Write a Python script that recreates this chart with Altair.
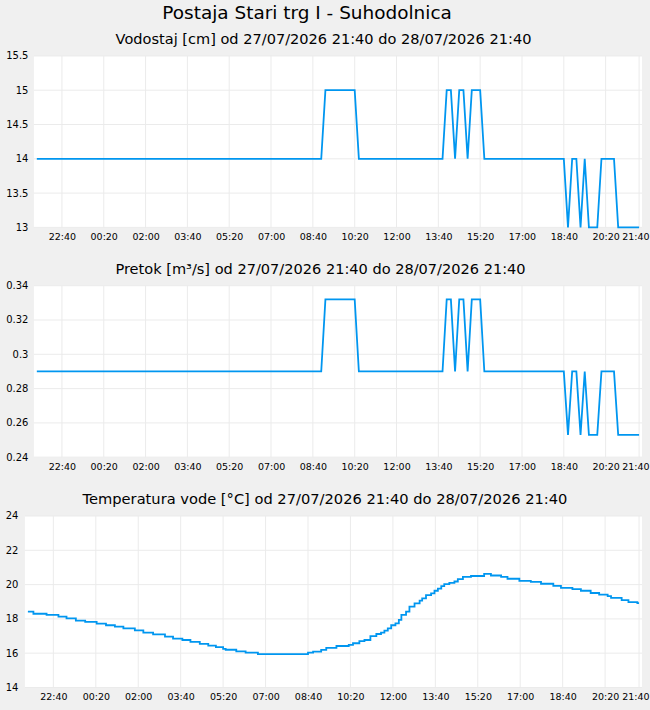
import altair as alt
import pandas as pd

# minutes after 27/07/2026 21:40
tick_minutes = [60, 160, 260, 360, 460, 560, 660, 760, 860, 960, 1060, 1160, 1260, 1360, 1440]
tick_labels = ["22:40", "00:20", "02:00", "03:40", "05:20", "07:00", "08:40", "10:20",
               "12:00", "13:40", "15:20", "17:00", "18:40", "20:20", "21:40"]

# Vodostaj [cm]
level_min = [0, 680, 690, 760, 770, 970, 980, 990, 1000, 1010, 1020, 1030, 1040, 1060, 1070,
             1260, 1270, 1280, 1290, 1300, 1310, 1320, 1340, 1350, 1380, 1390, 1440]
level_cm = [14, 14, 15, 15, 14, 14, 15, 15, 14, 15, 15, 14, 15, 15, 14,
            14, 13, 14, 14, 13, 14, 13, 13, 14, 14, 13, 13]

# Pretok [m3/s]
flow_min = [0, 680, 690, 760, 770, 970, 980, 990, 1000, 1010, 1020, 1030, 1040, 1060, 1070,
            1260, 1270, 1280, 1290, 1300, 1310, 1320, 1340, 1350, 1380, 1390, 1440]
flow_m3s = [0.290, 0.290, 0.332, 0.332, 0.290, 0.290, 0.332, 0.332, 0.290, 0.332, 0.332, 0.290,
            0.332, 0.332, 0.290, 0.290, 0.253, 0.290, 0.290, 0.253, 0.290, 0.253, 0.253, 0.290,
            0.290, 0.253, 0.253]

# Temperatura vode [°C]
temp_min = [0, 13, 44, 72, 91, 113, 135, 162, 184, 205, 225, 252, 272, 295, 323, 342, 364, 383,
            405, 425, 443, 460, 466, 491, 513, 542, 660, 672, 691, 703, 727, 756, 766, 781, 793,
            807, 821, 832, 840, 848, 856, 866, 874, 880, 891, 899, 911, 923, 929, 938, 950, 958,
            966, 974, 981, 993, 1005, 1013, 1025, 1044, 1075, 1091, 1115, 1130, 1158, 1185, 1209,
            1238, 1256, 1283, 1303, 1326, 1346, 1366, 1374, 1399, 1415, 1436, 1440]
temp_c = [18.42, 18.30, 18.24, 18.13, 18.03, 17.90, 17.82, 17.72, 17.63, 17.55, 17.45, 17.33,
          17.20, 17.10, 16.97, 16.85, 16.77, 16.66, 16.54, 16.44, 16.35, 16.25, 16.20, 16.10,
          16.03, 15.94, 16.03, 16.09, 16.19, 16.31, 16.42, 16.48, 16.58, 16.70, 16.77, 16.99,
          17.12, 17.20, 17.31, 17.45, 17.63, 17.74, 17.94, 18.23, 18.42, 18.71, 18.91, 19.06,
          19.20, 19.39, 19.49, 19.64, 19.76, 19.91, 20.03, 20.10, 20.18, 20.32, 20.45, 20.50,
          20.62, 20.53, 20.45, 20.34, 20.22, 20.16, 20.05, 19.93, 19.81, 19.74, 19.64, 19.51,
          19.41, 19.33, 19.23, 19.10, 18.98, 18.92, 18.92]

level_ticks = [13, 13.5, 14, 14.5, 15, 15.5]
flow_ticks = [0.24, 0.26, 0.28, 0.3, 0.32, 0.34]
temp_ticks = [14, 16, 18, 20, 22, 24]

BLUE = "#0096f0"
FONT = "DejaVu Sans"
GRID = "#ebebeb"
T_START, T_END = -7, 1447  # visible time window (minutes)

label_expr = "[" + ",".join("'%s'" % s for s in tick_labels) + "][indexof([" + \
    ",".join(str(v) for v in tick_minutes) + "], datum.value)]"
LAST = "datum.value == %d" % tick_minutes[-1]


def xaxis():
    return alt.Axis(values=tick_minutes, labelExpr=label_expr, title=None, grid=False,
                    ticks=False, domain=False, labelFontSize=9.5, labelFont=FONT,
                    labelColor="#000", labelPadding=4, labelOverlap=False,
                    labelAlign={"condition": {"test": LAST, "value": "right"}, "value": "center"},
                    labelOffset={"condition": {"test": LAST, "value": 10}, "value": 0},
                    minExtent=16, maxExtent=16)


def yaxis(vals, pad):
    return alt.Axis(values=vals, format="~g", title=None, grid=False, ticks=False,
                    domain=False, labelFontSize=10, labelFont=FONT, labelColor="#000",
                    labelPadding=pad, labelOverlap=False, minExtent=24, maxExtent=24)


def panel(df, ydom, yvals, title, x0, ypad, dx, fsize, interp):
    xs = alt.Scale(domain=[x0, T_END], nice=False, zero=False)
    ys = alt.Scale(domain=ydom, nice=False, zero=False)
    ax, ay = xaxis(), yaxis(yvals, ypad)
    bg = alt.Chart(pd.DataFrame({"a": [T_START], "b": [T_END], "c": [ydom[0]], "d": [ydom[1]]})
                   ).mark_rect(fill="white").encode(
        x=alt.X("a:Q", scale=xs, axis=ax), x2="b:Q",
        y=alt.Y("c:Q", scale=ys, axis=ay), y2="d:Q")
    hgrid = alt.Chart(pd.DataFrame({"g": yvals})).mark_rule(color=GRID, strokeWidth=1).encode(
        y=alt.Y("g:Q", scale=ys, axis=ay),
        x=alt.datum(T_START, scale=xs, axis=ax), x2=alt.datum(T_END))
    vgrid = alt.Chart(pd.DataFrame({"t": tick_minutes})).mark_rule(color=GRID, strokeWidth=1).encode(
        x=alt.X("t:Q", scale=xs, axis=ax),
        y=alt.datum(ydom[0], scale=ys, axis=ay), y2=alt.datum(ydom[1]))
    line = alt.Chart(df).mark_line(color=BLUE, strokeWidth=1.8, interpolate=interp).encode(
        x=alt.X("m:Q", scale=xs, axis=ax),
        y=alt.Y("v:Q", scale=ys, axis=ay))
    return alt.layer(bg, hgrid, vgrid, line).properties(
        width=619, height=172,
        title=alt.TitleParams(text=title, fontSize=fsize, fontWeight="normal", font=FONT,
                              color="#000", dx=dx, offset=4, anchor="middle"),
    )


df1 = pd.DataFrame({"m": level_min, "v": level_cm})
df2 = pd.DataFrame({"m": flow_min, "v": flow_m3s})
df3 = pd.DataFrame({"m": temp_min, "v": temp_c})

p1 = panel(df1, [13, 15.5], level_ticks,
           "Vodostaj [cm] od 27/07/2026 21:40 do 28/07/2026 21:40", -28.45, -3, -10, 14.6,
           "linear")
p2 = panel(df2, [0.24, 0.34], flow_ticks,
           "Pretok [m³/s] od 27/07/2026 21:40 do 28/07/2026 21:40", -28.45, -3, -13, 14.6,
           "linear")
p3 = panel(df3, [14, 24], temp_ticks,
           "Temperatura vode [°C] od 27/07/2026 21:40 do 28/07/2026 21:40", T_START, 7, -8.5,
           14.7, "step-after")

top = alt.vconcat(p1, p2, spacing=16.5)
chart = alt.vconcat(top, p3, spacing=17.5).properties(
    title=alt.TitleParams(text="Postaja Stari trg I - Suhodolnica", fontSize=18.5,
                          fontWeight="normal", font=FONT, color="#000", anchor="middle",
                          offset=5.5, dy=-3.5, dx=-18),
    background="#f0f0f0",
    padding={"left": 0, "top": 3, "right": 0, "bottom": 6},
).configure_view(fill="transparent", stroke="transparent")

chart.save("out.html", embed_options={"renderer": "svg", "actions": False})
